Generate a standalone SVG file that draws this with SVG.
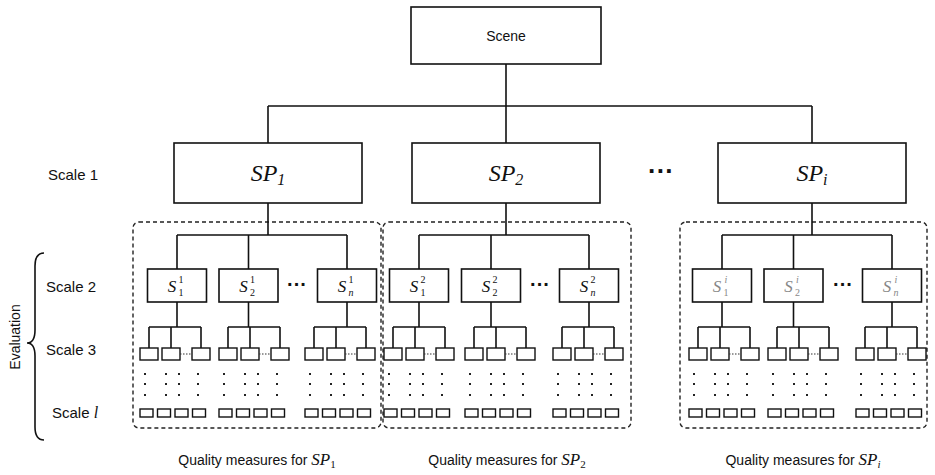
<svg xmlns="http://www.w3.org/2000/svg" xmlns:xlink="http://www.w3.org/1999/xlink" width="935" height="475" viewBox="0 0 935 475">
<style>
.box{fill:#fff;stroke:#111;stroke-width:1.6}
.ln{fill:none;stroke:#111;stroke-width:1.6}
.grp{fill:none;stroke:#222;stroke-width:1.4;stroke-dasharray:4 3}
.sm{fill:#fff;stroke:#111;stroke-width:1.4}
.dl{stroke:#333;stroke-width:1.2;stroke-dasharray:1.5 1.5}
.pt{fill:#222}
.lab{font-family:"Liberation Sans",Arial,sans-serif;font-size:14px;fill:#111}
.sc{font-size:15px}
.m{font-family:"Liberation Serif","Times New Roman",serif;font-style:italic;fill:#111}
.n{font-family:"Liberation Serif","Times New Roman",serif;fill:#111}
.g{fill:#888}
.dots{font-family:"Liberation Sans",Arial,sans-serif;font-weight:bold;fill:#111;text-anchor:middle}
</style>
<defs>
<g id="leafset">
<rect class="sm" x="-9" y="348" width="18" height="12"/>
<rect class="sm" x="13" y="348" width="18" height="12"/>
<rect class="sm" x="43" y="348" width="18" height="12"/>
<line class="dl" x1="31" y1="354" x2="43" y2="354"/>
<g class="pt">
<rect x="-5" y="373" width="2" height="2"/><rect x="16" y="373" width="2" height="2"/><rect x="29" y="373" width="2" height="2"/><rect x="48" y="373" width="2" height="2"/>
<rect x="-5" y="383" width="2" height="2"/><rect x="16" y="383" width="2" height="2"/><rect x="29" y="383" width="2" height="2"/><rect x="48" y="383" width="2" height="2"/>
<rect x="-5" y="394" width="2" height="2"/><rect x="16" y="394" width="2" height="2"/><rect x="29" y="394" width="2" height="2"/><rect x="48" y="394" width="2" height="2"/>
</g>
<rect class="sm" x="-9" y="409" width="13" height="8"/>
<rect class="sm" x="8.5" y="409" width="13" height="8"/>
<rect class="sm" x="26" y="409" width="13" height="8"/>
<rect class="sm" x="43.5" y="409" width="13" height="8"/>
</g>
</defs>

<g id="groups">
<rect class="grp" x="133" y="222" width="248" height="206" rx="6"/>
<rect class="grp" x="383" y="222" width="248" height="206" rx="6"/>
<rect class="grp" x="680" y="222" width="247" height="206" rx="6"/>
</g>

<g id="connectors" class="ln">
<path d="M506 64V106M268 106H812M268 106V143M506 106V143M812 106V143"/>
<path d="M268 203V235M177 235H347M177 235V269M248.5 235V269M347 235V269"/>
<path d="M506 203V235M419 235H589M419 235V269M491 235V269M589 235V269"/>
<path d="M812 203V235M722 235H892M722 235V269M793.5 235V269M892 235V269"/>
<path d="M177 302V327M149 327H201M149 327V348M171 327V348M201 327V348"/>
<path d="M248.5 302V327M228 327H280M228 327V348M250 327V348M280 327V348"/>
<path d="M347 302V327M314 327H366M314 327V348M336 327V348M366 327V348"/>
<path d="M419 302V327M393 327H445M393 327V348M415 327V348M445 327V348"/>
<path d="M491 302V327M474 327H526M474 327V348M496 327V348M526 327V348"/>
<path d="M589 302V327M562 327H614M562 327V348M584 327V348M614 327V348"/>
<path d="M722 302V327M698 327H750M698 327V348M720 327V348M750 327V348"/>
<path d="M793.5 302V327M777 327H829M777 327V348M799 327V348M829 327V348"/>
<path d="M892 302V327M865 327H917M865 327V348M887 327V348M917 327V348"/>
</g>

<g id="scene">
<rect class="box" x="411" y="7" width="190" height="57"/>
<text class="lab" x="506" y="41" text-anchor="middle" font-size="15">Scene</text>
</g>

<g id="sp1">
<rect class="box" x="174" y="143" width="188" height="60"/>
<text class="m" x="268" y="181" text-anchor="middle" font-size="24">SP<tspan class="n" font-size="16" dy="4">1</tspan></text>
</g>
<g id="sp2">
<rect class="box" x="412" y="143" width="188" height="60"/>
<text class="m" x="506" y="181" text-anchor="middle" font-size="24">SP<tspan class="n" font-size="16" dy="4">2</tspan></text>
</g>
<g id="spi">
<rect class="box" x="718" y="143" width="188" height="60"/>
<text class="m" x="812" y="181" text-anchor="middle" font-size="24">SP<tspan font-size="16" dy="4">i</tspan></text>
</g>
<text class="dots" x="661" y="180" font-size="26">···</text>

<g id="s1_1">
<rect class="box" x="147.5" y="269" width="59" height="33"/>
<text class="m" x="172" y="292" text-anchor="middle" font-size="17">S</text>
<text class="n" x="181" y="283" text-anchor="middle" font-size="10">1</text>
<text class="n" x="181" y="296" text-anchor="middle" font-size="10">1</text>
<use xlink:href="#leafset" transform="translate(149,0)"/>
</g>
<g id="s2_1">
<rect class="box" x="219" y="269" width="59" height="33"/>
<text class="m" x="243.5" y="292" text-anchor="middle" font-size="17">S</text>
<text class="n" x="252.5" y="283" text-anchor="middle" font-size="10">1</text>
<text class="n" x="252.5" y="296" text-anchor="middle" font-size="10">2</text>
<use xlink:href="#leafset" transform="translate(228,0)"/>
</g>
<text class="dots" x="297" y="291" font-size="20">···</text>
<g id="sn_1">
<rect class="box" x="317.5" y="269" width="59" height="33"/>
<text class="m" x="342" y="292" text-anchor="middle" font-size="17">S</text>
<text class="n" x="351" y="283" text-anchor="middle" font-size="10">1</text>
<text class="m" x="351" y="296" text-anchor="middle" font-size="10">n</text>
<use xlink:href="#leafset" transform="translate(314,0)"/>
</g>

<g id="s1_2">
<rect class="box" x="389.5" y="269" width="59" height="33"/>
<text class="m" x="414" y="292" text-anchor="middle" font-size="17">S</text>
<text class="n" x="423" y="283" text-anchor="middle" font-size="10">2</text>
<text class="n" x="423" y="296" text-anchor="middle" font-size="10">1</text>
<use xlink:href="#leafset" transform="translate(393,0)"/>
</g>
<g id="s2_2">
<rect class="box" x="461.5" y="269" width="59" height="33"/>
<text class="m" x="486" y="292" text-anchor="middle" font-size="17">S</text>
<text class="n" x="495" y="283" text-anchor="middle" font-size="10">2</text>
<text class="n" x="495" y="296" text-anchor="middle" font-size="10">2</text>
<use xlink:href="#leafset" transform="translate(474,0)"/>
</g>
<text class="dots" x="540" y="291" font-size="20">···</text>
<g id="sn_2">
<rect class="box" x="559.5" y="269" width="59" height="33"/>
<text class="m" x="584" y="292" text-anchor="middle" font-size="17">S</text>
<text class="n" x="593" y="283" text-anchor="middle" font-size="10">2</text>
<text class="m" x="593" y="296" text-anchor="middle" font-size="10">n</text>
<use xlink:href="#leafset" transform="translate(562,0)"/>
</g>

<g id="s1_i">
<rect class="box" x="692.5" y="269" width="59" height="33"/>
<text class="m g" x="717" y="292" text-anchor="middle" font-size="17">S</text>
<text class="m g" x="726" y="283" text-anchor="middle" font-size="10">i</text>
<text class="n g" x="726" y="296" text-anchor="middle" font-size="10">1</text>
<use xlink:href="#leafset" transform="translate(698,0)"/>
</g>
<g id="s2_i">
<rect class="box" x="764" y="269" width="59" height="33"/>
<text class="m g" x="788.5" y="292" text-anchor="middle" font-size="17">S</text>
<text class="m g" x="797.5" y="283" text-anchor="middle" font-size="10">i</text>
<text class="n g" x="797.5" y="296" text-anchor="middle" font-size="10">2</text>
<use xlink:href="#leafset" transform="translate(777,0)"/>
</g>
<text class="dots" x="843" y="291" font-size="20">···</text>
<g id="sn_i">
<rect class="box" x="862.5" y="269" width="59" height="33"/>
<text class="m g" x="887" y="292" text-anchor="middle" font-size="17">S</text>
<text class="m g" x="896" y="283" text-anchor="middle" font-size="10">i</text>
<text class="m g" x="896" y="296" text-anchor="middle" font-size="10">n</text>
<use xlink:href="#leafset" transform="translate(865,0)"/>
</g>

<g id="labels">
<text class="lab sc" x="48" y="180">Scale 1</text>
<text class="lab sc" x="46" y="292">Scale 2</text>
<text class="lab sc" x="46" y="355">Scale 3</text>
<text class="lab sc" x="52" y="418">Scale <tspan class="m" font-size="16">l</tspan></text>
<text class="lab" transform="translate(20,337) rotate(-90)" text-anchor="middle" font-size="15">Evaluation</text>
<path class="ln" stroke-width="1.3" d="M44 253C37 253 35 258 35 266L35 330C35 338 33 343 27 343C33 343 35 348 35 356L35 427C35 435 37 440 44 440"/>
<text class="lab" x="257" y="465" text-anchor="middle">Quality measures for <tspan class="m" font-size="17">SP</tspan><tspan class="n" font-size="11" dy="3">1</tspan></text>
<text class="lab" x="507" y="465" text-anchor="middle">Quality measures for <tspan class="m" font-size="17">SP</tspan><tspan class="n" font-size="11" dy="3">2</tspan></text>
<text class="lab" x="803" y="465" text-anchor="middle">Quality measures for <tspan class="m" font-size="17">SP</tspan><tspan class="m" font-size="11" dy="3">i</tspan></text>
</g>
</svg>
